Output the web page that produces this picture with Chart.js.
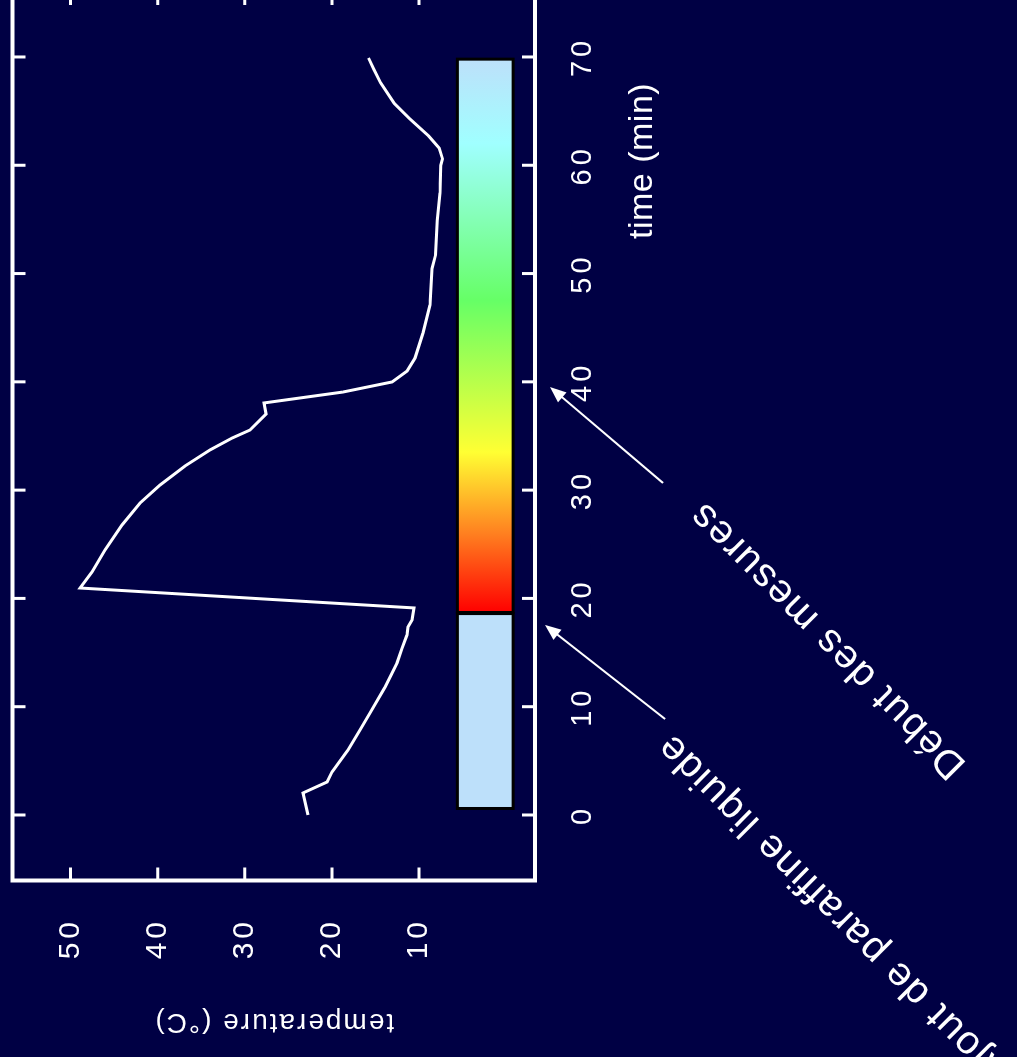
<!DOCTYPE html>
<html>
<head>
<meta charset="utf-8">
<script src="https://cdn.jsdelivr.net/npm/chart.js@4.4.1/dist/chart.umd.min.js"></script>
<style>
  html, body { margin: 0; padding: 0; background: #000044; overflow: hidden; width: 1017px; height: 1057px; }
  /* the whole figure is turned a quarter turn, like the scanned slide */
  #wrap { position: absolute; left: 0; top: 0; width: 1090px; height: 1017px;
          transform-origin: 0 0; transform: translate(0px, 1057px) rotate(-90deg); }
</style>
</head>
<body>
<div id="wrap"><canvas id="chart" width="1090" height="1017"></canvas></div>
<script>
// mesures (temps en min, température en °C)
const timeMin = [0, 2.03, 3.05, 3.97, 6.0, 7.85, 9.42, 11.82, 14.04, 15.42, 16.62, 17.36, 18.01, 19.12,
  20.96, 22.44, 24.47, 26.78, 28.81, 30.47, 32.23, 33.71, 34.81, 35.55, 37.03, 38.05, 39.06, 39.99,
  41.0, 42.2, 44.51, 47.1, 50.46, 51.73, 54.91, 57.46, 60.0, 60.58, 61.59, 62.7, 64.29, 65.72, 67.63, 68.9, 69.91];
const tempC = [22.74, 23.32, 20.56, 19.99, 18.15, 16.77, 15.62, 13.9, 12.53, 11.95, 11.38, 11.26, 10.8, 10.57,
  48.9, 47.53, 46.04, 44.09, 42.02, 39.73, 36.86, 33.99, 31.46, 29.4, 27.56, 27.79, 18.72, 13.1,
  11.38, 10.46, 9.54, 8.74, 8.51, 8.1, 7.9, 7.59, 7.5, 7.3, 7.7, 8.89, 11.06, 12.84, 14.42, 15.21, 15.8];

const timeTicks = [0, 10, 20, 30, 40, 50, 60, 70];
const tempTicks = [10, 20, 30, 40, 50];

// barre de couleur sous la courbe
const barBand = [-0.8, 5.6];
const barSolid = [0.6, 18.6];
const gradStops = [18.7, 26, 33.5, 47.5, 62, 69.8];
const gradColors = ['#ff0000', '#ff8020', '#ffff33', '#66ff66', '#a0ffff', '#bde0fa'];

// annotations (en unités des axes)
const notes = [
  { text: 'Début des mesures', at: [16.16, -36.94], align: 'center', tail: [30.66, -18.0], tip: [39.52, -5.04] },
  { text: 'Ajout de paraffine liquide', at: [6.93, -18.12], align: 'right', tail: [8.86, -18.24], tip: [17.55, -4.46] }
];

const FONT = 'Liberation Sans, Arial, sans-serif';

const decor = {
  id: 'decor',
  beforeDraw(chart) {
    chart.ctx.letterSpacing = '4px';
  },
  beforeDatasetsDraw(chart) {
    const { ctx, scales: { x, y } } = chart;
    const top = y.getPixelForValue(barBand[1]);
    const bot = y.getPixelForValue(barBand[0]);
    ctx.save();
    ctx.lineWidth = 3;
    ctx.strokeStyle = '#000000';

    const s0 = x.getPixelForValue(barSolid[0]);
    const s1 = x.getPixelForValue(barSolid[1]);
    ctx.fillStyle = '#bde0fa';
    ctx.fillRect(s0, top, s1 - s0, bot - top);
    ctx.strokeRect(s0, top, s1 - s0, bot - top);

    const first = gradStops[0], last = gradStops[gradStops.length - 1];
    const g0 = x.getPixelForValue(first);
    const g1 = x.getPixelForValue(last);
    const grad = ctx.createLinearGradient(g0, 0, g1, 0);
    gradStops.forEach((t, i) => grad.addColorStop((t - first) / (last - first), gradColors[i]));
    ctx.fillStyle = grad;
    ctx.fillRect(g0, top, g1 - g0, bot - top);
    ctx.strokeRect(g0, top, g1 - g0, bot - top);
    ctx.restore();
  },
  afterDraw(chart) {
    const { ctx, chartArea: a, scales: { x, y } } = chart;
    ctx.save();
    ctx.strokeStyle = '#ffffff';
    ctx.fillStyle = '#ffffff';

    // cadre
    ctx.lineWidth = 4;
    ctx.strokeRect(a.left, a.top, a.right - a.left, a.bottom - a.top);

    // graduations vers l'intérieur, sur les quatre côtés
    ctx.lineWidth = 3;
    const tl = 13;
    ctx.beginPath();
    timeTicks.forEach(v => {
      const p = x.getPixelForValue(v);
      ctx.moveTo(p, a.bottom); ctx.lineTo(p, a.bottom - tl);
      ctx.moveTo(p, a.top); ctx.lineTo(p, a.top + tl);
    });
    tempTicks.forEach(v => {
      const p = y.getPixelForValue(v);
      ctx.moveTo(a.left, p); ctx.lineTo(a.left + tl, p);
      ctx.moveTo(a.right, p); ctx.lineTo(a.right - tl, p);
    });
    ctx.stroke();

    ctx.textAlign = 'center';
    ctx.textBaseline = 'middle';

    // titre de l'axe du temps (décalé vers la droite comme sur l'original)
    ctx.letterSpacing = '0.5px';
    ctx.font = '34px ' + FONT;
    ctx.fillText('time (min)', x.getPixelForValue(60.4), a.bottom + 108);

    // titre de l'axe des températures
    ctx.save();
    ctx.translate(y.left + 35, (a.top + a.bottom) / 2);
    ctx.rotate(-Math.PI / 2);
    ctx.letterSpacing = '2px';
    ctx.font = '28px ' + FONT;
    ctx.fillText('temperature (°C)', 0, 0);
    ctx.restore();

    // flèches + textes
    notes.forEach(n => {
      const x0 = x.getPixelForValue(n.tail[0]), y0 = y.getPixelForValue(n.tail[1]);
      const x1 = x.getPixelForValue(n.tip[0]), y1 = y.getPixelForValue(n.tip[1]);
      const ang = Math.atan2(y1 - y0, x1 - x0);
      const head = 16, half = 6.5;
      ctx.lineWidth = 2;
      ctx.beginPath();
      ctx.moveTo(x0, y0);
      ctx.lineTo(x1 - Math.cos(ang) * head * 0.8, y1 - Math.sin(ang) * head * 0.8);
      ctx.stroke();
      ctx.beginPath();
      ctx.moveTo(x1, y1);
      ctx.lineTo(x1 - Math.cos(ang) * head + Math.sin(ang) * half, y1 - Math.sin(ang) * head - Math.cos(ang) * half);
      ctx.lineTo(x1 - Math.cos(ang) * head - Math.sin(ang) * half, y1 - Math.sin(ang) * head + Math.cos(ang) * half);
      ctx.closePath();
      ctx.fill();

      ctx.save();
      ctx.translate(x.getPixelForValue(n.at[0]), y.getPixelForValue(n.at[1]));
      ctx.rotate(-Math.PI / 4);
      ctx.letterSpacing = '1.5px';
      ctx.font = '40px ' + FONT;
      ctx.textAlign = n.align;
      ctx.fillText(n.text, 0, 0);
      ctx.restore();
    });
    ctx.restore();
  }
};

new Chart(document.getElementById('chart'), {
  type: 'line',
  data: {
    datasets: [{
      data: timeMin.map((t, i) => ({ x: t, y: tempC[i] })),
      borderColor: '#ffffff',
      borderWidth: 3,
      pointRadius: 0,
      tension: 0,
      fill: false
    }]
  },
  options: {
    responsive: false,
    animation: false,
    devicePixelRatio: 1,
    layout: { padding: { top: 12.5, right: 25, left: 0, bottom: 0 } },
    plugins: { legend: { display: false }, tooltip: { enabled: false } },
    scales: {
      x: {
        type: 'linear',
        min: -6.05,
        max: 76,
        grid: { display: false, drawTicks: false },
        border: { display: false },
        afterBuildTicks: s => { s.ticks = timeTicks.map(v => ({ value: v })); },
        afterFit: s => { s.height = 482; s.paddingLeft = 0; s.paddingRight = 0; s.paddingTop = 0; s.paddingBottom = 0; },
        ticks: { color: '#ffffff', font: { family: FONT, size: 29 }, padding: 30.6, maxRotation: 0, autoSkip: false }
      },
      y: {
        type: 'linear',
        min: -3.31,
        max: 56.66,
        grid: { display: false, drawTicks: false },
        border: { display: false },
        afterBuildTicks: s => { s.ticks = tempTicks.map(v => ({ value: v })); },
        afterFit: s => { s.width = 176.5; s.paddingLeft = 0; s.paddingRight = 0; s.paddingTop = 0; s.paddingBottom = 0; },
        ticks: { color: '#ffffff', font: { family: FONT, size: 30 }, padding: 37.5, autoSkip: false }
      }
    }
  },
  plugins: [decor]
});
</script>
</body>
</html>
